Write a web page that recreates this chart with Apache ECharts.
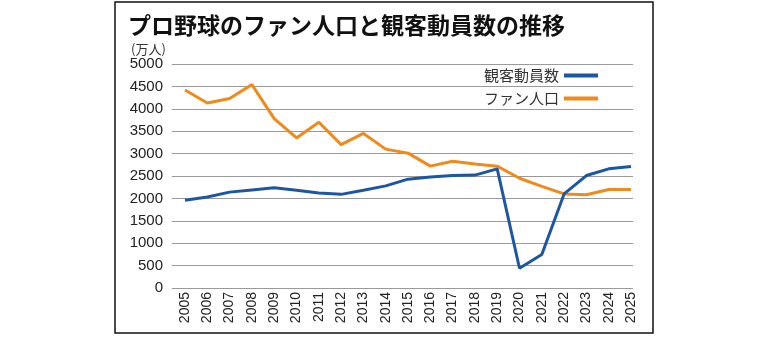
<!DOCTYPE html>
<html>
<head>
<meta charset="utf-8">
<script src="https://cdn.jsdelivr.net/npm/echarts@6/dist/echarts.min.js"></script>
<style>
  html, body { margin: 0; padding: 0; background: #fff; }
  #chart { width: 770px; height: 337px; }
</style>
</head>
<body>
<div id="chart"></div>
<script>
// Years on the horizontal axis
const years = ['2005','2006','2007','2008','2009','2010','2011','2012','2013','2014',
  '2015','2016','2017','2018','2019','2020','2021','2022','2023','2024','2025'];

// 観客動員数 (万人)
const attendance = [1960, 2030, 2140, 2190, 2240, 2180, 2120, 2090, 2180, 2280,
  2430, 2480, 2510, 2520, 2660, 440, 750, 2100, 2510, 2660, 2710];

// ファン人口 (万人)
const fanPopulation = [4420, 4130, 4230, 4540, 3780, 3350, 3700, 3200, 3450, 3100,
  3010, 2720, 2830, 2770, 2720, 2450, 2270, 2100, 2080, 2200, 2200];

const seriesNames = ['観客動員数', 'ファン人口'];
const yMin = 0, yMax = 5000, yStep = 500;

const jpFont = '"Noto Sans CJK JP", "Noto Sans", sans-serif';
const numFont = '"Liberation Sans", Arial, sans-serif';
const blue = '#1d57a3';
const orange = '#ef8a1c';

const chart = echarts.init(document.getElementById('chart'));
chart.setOption({
  animation: false,
  backgroundColor: '#fff',
  title: [{
    text: 'プロ野球のファン人口と観客動員数の推移',
    left: 123, top: 9,
    textStyle: { fontFamily: jpFont, fontSize: 23, fontWeight: 'bold', color: '#111' }
  }, {
    text: '(万人)',
    left: 126, top: 38,
    textStyle: { fontFamily: jpFont, fontSize: 13, fontWeight: 'normal', color: '#333' }
  }],
  legend: {
    orient: 'vertical',
    align: 'right',
    right: 167, top: 63,
    itemWidth: 34, itemHeight: 4, itemGap: 8,
    icon: 'rect',
    textStyle: { fontFamily: jpFont, fontSize: 15, color: '#333', lineHeight: 15 },
    data: seriesNames
  },
  graphic: [{
    type: 'rect',
    shape: { x: 115, y: 2, width: 538, height: 331 },
    style: { fill: 'none', stroke: '#111', lineWidth: 1.5 },
    silent: true, z: 100
  }],
  grid: [
    // gridlines and value labels
    { left: 172, right: 137, top: 64, bottom: 49 },
    // plotted lines and year labels
    { left: 185, right: 139, top: 64, bottom: 49 }
  ],
  xAxis: [{
    gridIndex: 0, type: 'value', show: false
  }, {
    gridIndex: 1, type: 'category', data: years, boundaryGap: false,
    axisLine: { show: false }, axisTick: { show: false },
    axisLabel: { rotate: 90, margin: 4, fontFamily: numFont, fontSize: 14, color: '#222', interval: 0 }
  }],
  yAxis: [{
    gridIndex: 0, type: 'value', min: yMin, max: yMax, interval: yStep,
    axisLine: { show: false }, axisTick: { show: false },
    axisLabel: { margin: 9, fontFamily: numFont, fontSize: 15, color: '#222',
      formatter: v => String(v) },
    splitLine: { lineStyle: { color: '#9a9a9a', width: 1.2 } }
  }, {
    gridIndex: 1, type: 'value', min: yMin, max: yMax, interval: yStep, show: false,
    splitLine: { show: false }
  }],
  series: [{
    name: seriesNames[0], type: 'line', xAxisIndex: 1, yAxisIndex: 1,
    data: attendance, symbol: 'none', z: 3,
    itemStyle: { color: blue },
    lineStyle: { color: blue, width: 3 }
  }, {
    name: seriesNames[1], type: 'line', xAxisIndex: 1, yAxisIndex: 1,
    data: fanPopulation, symbol: 'none', z: 2,
    itemStyle: { color: orange },
    lineStyle: { color: orange, width: 3 }
  }]
});
</script>
</body>
</html>
